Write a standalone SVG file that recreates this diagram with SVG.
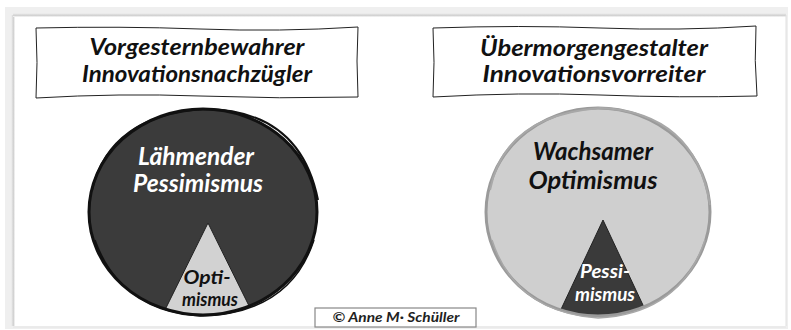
<svg xmlns="http://www.w3.org/2000/svg" width="791" height="330" viewBox="0 0 791 330">
<defs>
<style>
.hand{font-family:Lato,"Noto Sans","DejaVu Sans",sans-serif;font-weight:bold;font-style:italic;text-anchor:middle}
.title{font-size:22px;fill:#111}
.big{font-size:24px}
.small{font-size:18px}
.box{fill:#fff;stroke:#222;stroke-width:1}
</style>
<clipPath id="cl"><ellipse cx="203" cy="212" rx="114" ry="103"/></clipPath>
<clipPath id="cr"><ellipse cx="598" cy="212" rx="112" ry="104"/></clipPath>
<linearGradient id="gl" x1="0" y1="0" x2="1" y2="0"><stop offset="0" stop-color="#f2f2f2"/><stop offset="0.6" stop-color="#d0d0d0"/><stop offset="1" stop-color="#fafafa"/></linearGradient>
<linearGradient id="gt" x1="0" y1="0" x2="0" y2="1"><stop offset="0" stop-color="#f2f2f2"/><stop offset="0.6" stop-color="#d0d0d0"/><stop offset="1" stop-color="#fafafa"/></linearGradient>
</defs>
<rect width="791" height="330" fill="#fff"/>
<g id="frame">
<rect x="5" y="7" width="783" height="322" fill="#efefef"/>
<rect x="13" y="15" width="773" height="311" fill="#fff"/>
<rect x="11" y="15" width="4" height="311" fill="url(#gl)"/>
<rect x="13" y="13" width="773" height="4" fill="url(#gt)"/>
<line x1="786" y1="15" x2="786" y2="326" stroke="#e0e0e0" stroke-width="1"/>
<line x1="13" y1="327" x2="786" y2="327" stroke="#e6e6e6" stroke-width="1"/>
</g>
<g id="title-left">
<path class="box" d="M36,28 Q120,26 200,29 T358,27 Q356,60 358,97 Q280,99 200,96 T36,98 Q38,62 36,28 Z"/>
<text class="hand title" x="197" y="55" textLength="215" lengthAdjust="spacingAndGlyphs">Vorgesternbewahrer</text>
<text class="hand title" x="197" y="82" textLength="230" lengthAdjust="spacingAndGlyphs">Innovationsnachzügler</text>
</g>
<g id="title-right">
<path class="box" d="M433,28 Q520,25 600,28 T756,26 Q754,60 757,96 Q680,98 600,95 T433,97 Q435,62 433,28 Z"/>
<text class="hand title" x="594" y="56" textLength="228" lengthAdjust="spacingAndGlyphs">Übermorgengestalter</text>
<text class="hand title" x="594" y="82" textLength="223" lengthAdjust="spacingAndGlyphs">Innovationsvorreiter</text>
</g>
<g id="circle-left">
<ellipse cx="203" cy="212" rx="114" ry="103" fill="#3b3b3b"/>
<g clip-path="url(#cl)">
<polygon points="208,223 160,320 256,320" fill="#d2d2d2" stroke="#222" stroke-width="1"/>
</g>
<ellipse cx="203" cy="212" rx="114" ry="103" fill="none" stroke="#111" stroke-width="3"/>
<path d="M92,190 Q110,115 205,109 Q300,110 318,200" fill="none" stroke="#111" stroke-width="2"/>
<path d="M95,240 Q120,310 200,316 Q290,314 314,240" fill="none" stroke="#111" stroke-width="1.5"/>
<text class="hand big" x="196" y="165" fill="#fff" textLength="116" lengthAdjust="spacingAndGlyphs">Lähmender</text>
<text class="hand big" x="198" y="192" fill="#fff" textLength="130" lengthAdjust="spacingAndGlyphs">Pessimismus</text>
<text class="hand small" x="207" y="284" fill="#111" textLength="47" lengthAdjust="spacingAndGlyphs">Opti-</text>
<text class="hand small" x="210" y="306" fill="#111" textLength="56" lengthAdjust="spacingAndGlyphs">mismus</text>
</g>
<g id="circle-right">
<ellipse cx="598" cy="212" rx="112" ry="104" fill="#cfcfcf"/>
<g clip-path="url(#cr)">
<polygon points="603,220 556,320 650,320" fill="#3a3a3a" stroke="#222" stroke-width="1"/>
</g>
<ellipse cx="598" cy="212" rx="112" ry="104" fill="none" stroke="#9a9a9a" stroke-width="3"/>
<path d="M490,190 Q505,115 600,108 Q695,112 710,205" fill="none" stroke="#a8a8a8" stroke-width="2"/>
<path d="M492,240 Q515,312 598,318 Q680,314 705,240" fill="none" stroke="#a8a8a8" stroke-width="1.5"/>
<text class="hand big" x="593" y="160" fill="#111" textLength="120" lengthAdjust="spacingAndGlyphs">Wachsamer</text>
<text class="hand big" x="593" y="189" fill="#111" textLength="129" lengthAdjust="spacingAndGlyphs">Optimismus</text>
<text class="hand small" x="605" y="278" fill="#fff" textLength="50" lengthAdjust="spacingAndGlyphs">Pessi-</text>
<text class="hand small" x="605" y="301" fill="#fff" textLength="60" lengthAdjust="spacingAndGlyphs">mismus</text>
</g>
<g id="copyright">
<rect x="315" y="308" width="161" height="19" fill="#fff" stroke="#888" stroke-width="1.2"/>
<text class="hand" x="396" y="322" font-size="13" font-weight="normal" fill="#222" textLength="127" lengthAdjust="spacingAndGlyphs">© Anne M· Schüller</text>
</g>
</svg>
